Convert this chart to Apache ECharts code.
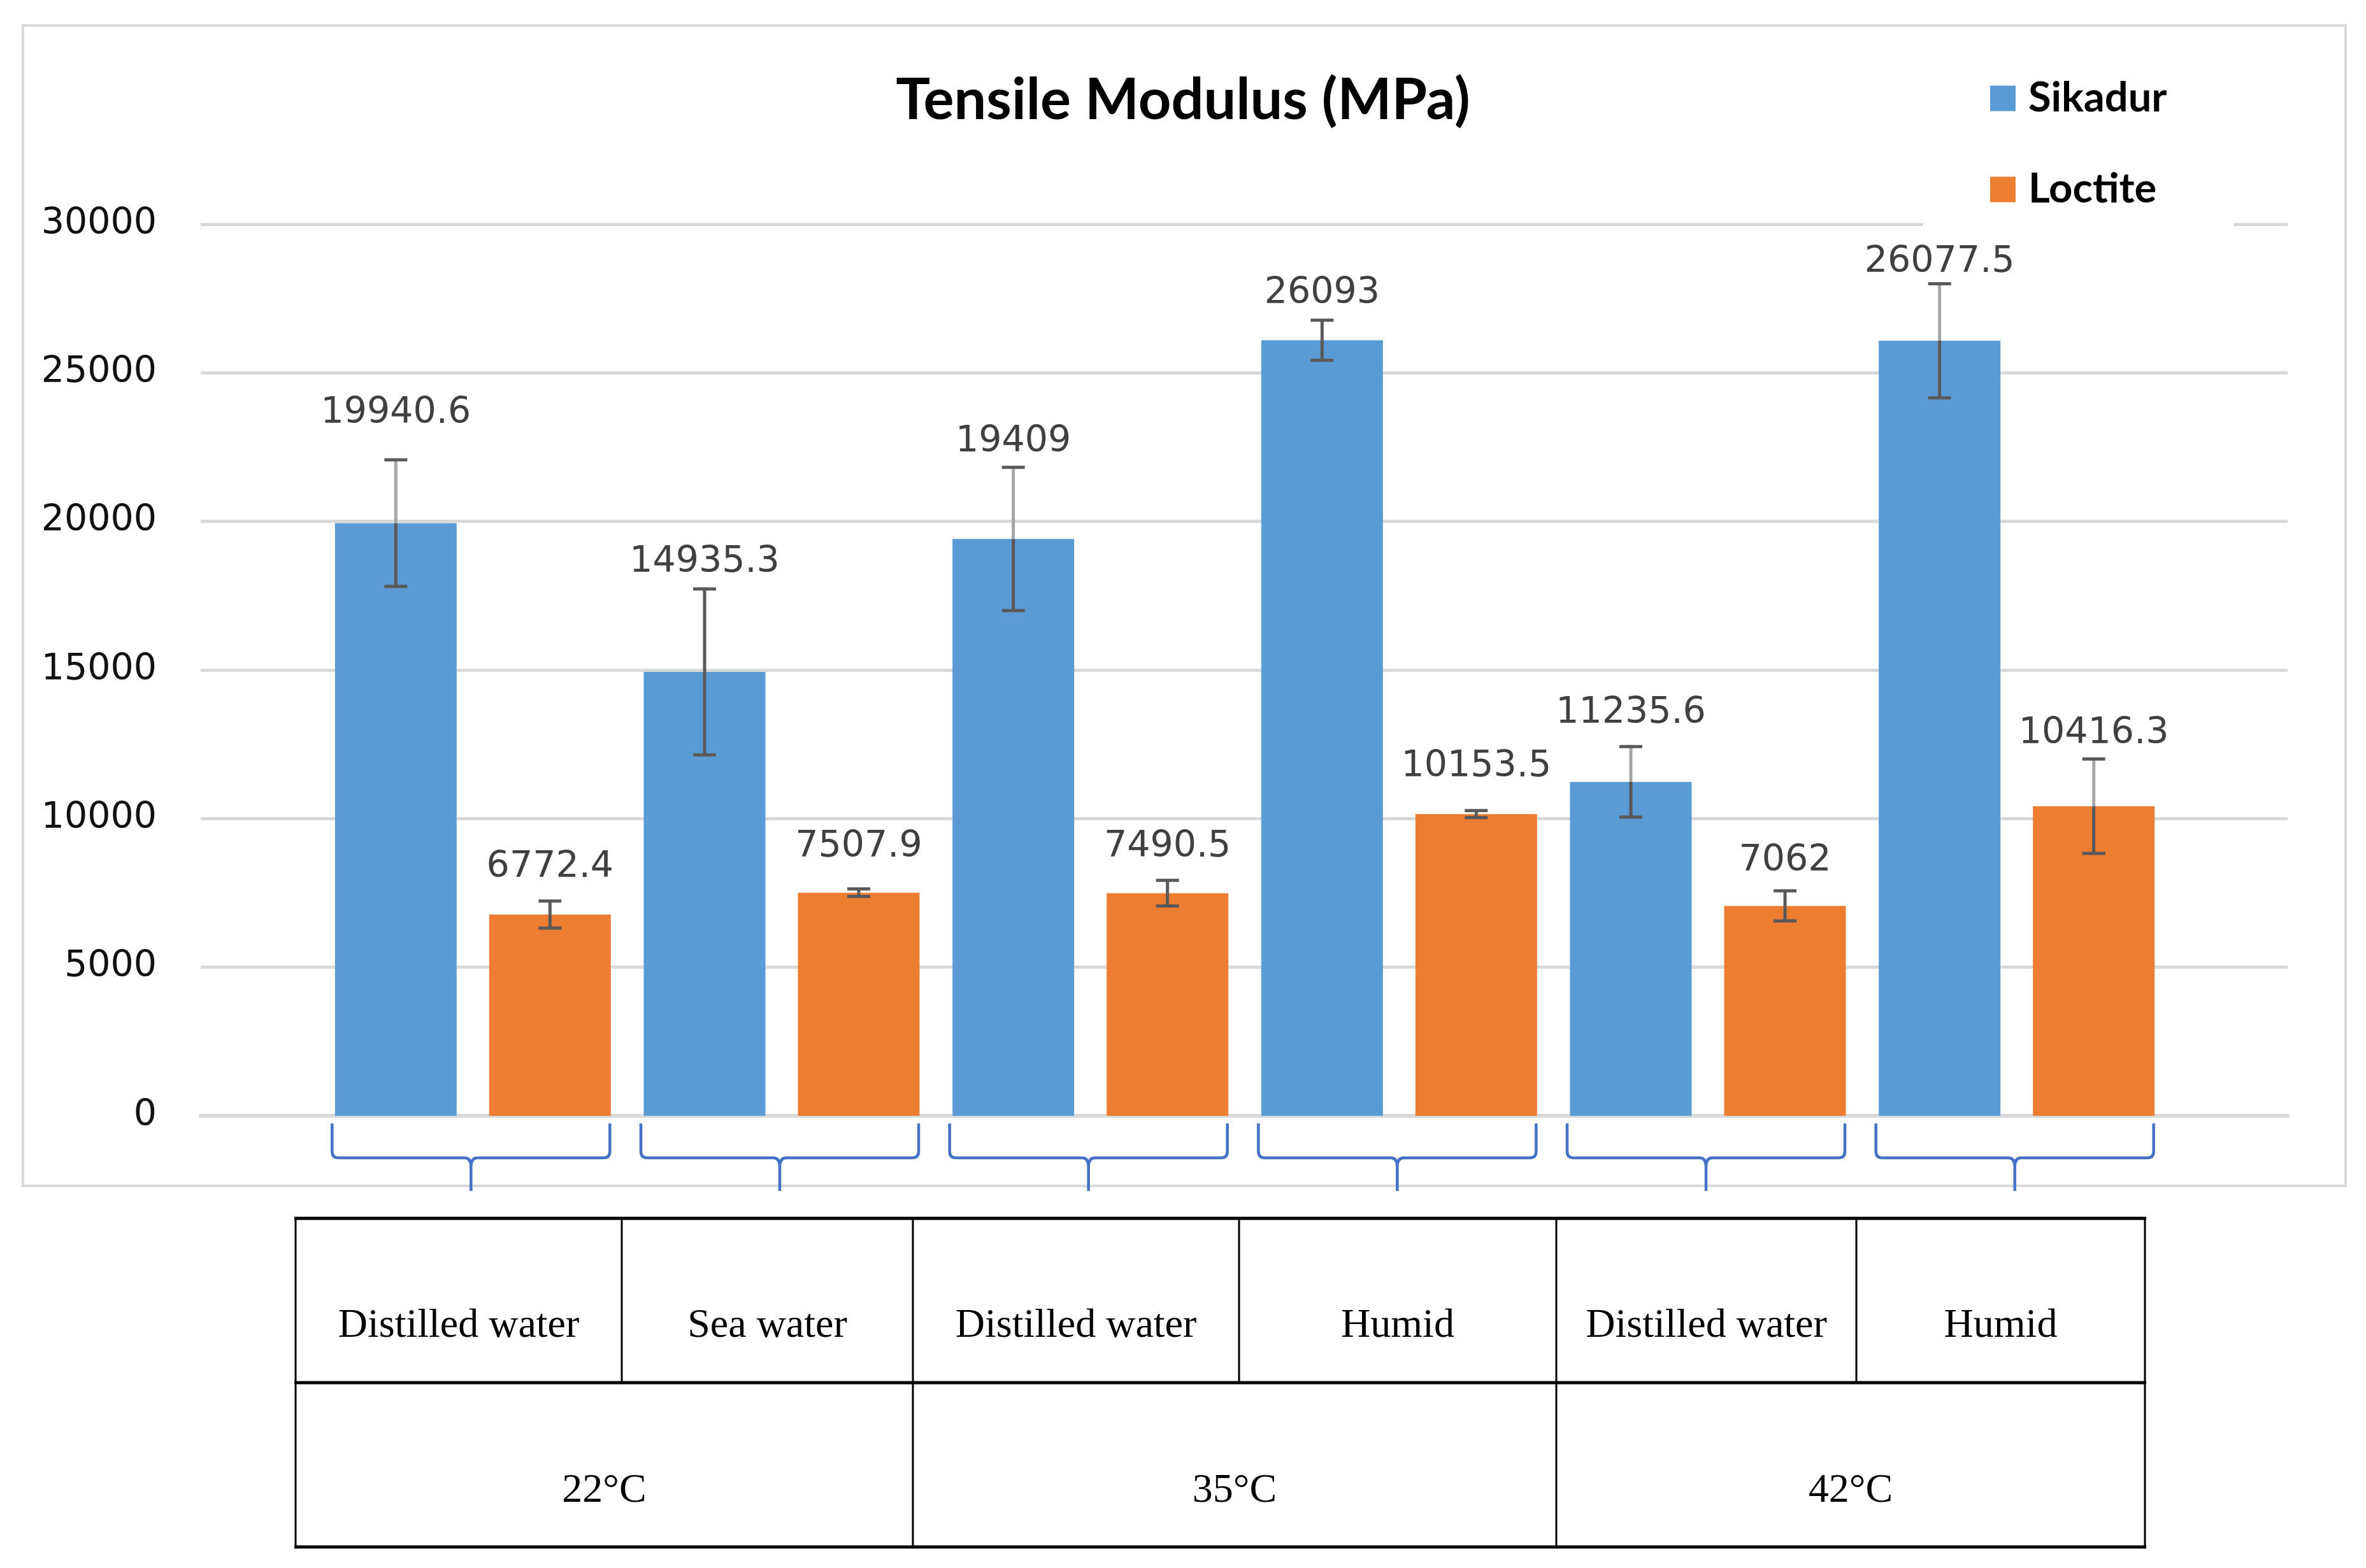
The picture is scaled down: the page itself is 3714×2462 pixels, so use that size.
<!DOCTYPE html>
<html><head><meta charset="utf-8">
<script src="https://cdn.jsdelivr.net/npm/echarts@6/dist/echarts.min.js"></script>
<style>html,body{margin:0;padding:0;background:#fff}#c{width:3714px;height:2462px}</style>
</head><body><div id="c"></div>
<script>
// ---------- data ----------
const categories = ['22°C Distilled water', '22°C Sea water', '35°C Distilled water', '35°C Humid', '42°C Distilled water', '42°C Humid'];
const seriesNames = ['Sikadur', 'Loctite'];
const sikadur = [19940.6, 14935.3, 19409, 26093, 11235.6, 26077.5];
const loctite = [6772.4, 7507.9, 7490.5, 10153.5, 7062, 10416.3];
const sikadurErr = [2130, 2790, 2410, 675, 1185, 1920];
const loctiteErr = [456, 127, 431, 118, 507, 1590];
const yMin = 0, yMax = 30000, yInterval = 5000;
const conditionLabels = ['Distilled water', 'Sea water', 'Distilled water', 'Humid', 'Distilled water', 'Humid'];
const temperatureLabels = ['22°C', '35°C', '42°C'];
const chartTitle = 'Tensile Modulus (MPa)';

// ---------- styles / layout ----------
const BLUE = '#5b9bd5', ORANGE = '#ed7d31', ERR = '#595959', ERR_LIGHT = '#a6a6a6';
const BAR_W = 191, BAR_GAP = 51;
const sikadurLightStem = [true, false, true, false, true, true];
const loctiteLightStem = [false, false, false, false, false, true];
const sikadurLabelLift = [73, 42, 40, 42, 52, 33];
const loctiteLabelLift = [52, 66, 52, 68, 47, 40];

const chart = echarts.init(document.getElementById('c'), null, {renderer: 'canvas'});

function errRender(sign, lightStem, lift) {
  return function (params, api) {
    const i = api.value(0), v = api.value(1), e = api.value(2);
    const base = api.coord([i, v]);
    const x = base[0] + sign * (BAR_W + BAR_GAP) / 2;
    const yBar = base[1];
    const yTop = api.coord([i, v + e])[1];
    const yBot = api.coord([i, v - e])[1];
    const capHalf = 18;
    const lw = 5;
    return {
      type: 'group',
      children: [
        {type: 'line', shape: {x1: x, y1: yTop, x2: x, y2: yBar}, style: {stroke: lightStem[i] ? ERR_LIGHT : ERR, lineWidth: lw}},
        {type: 'line', shape: {x1: x, y1: yBar, x2: x, y2: yBot}, style: {stroke: ERR, lineWidth: lw}},
        {type: 'line', shape: {x1: x - capHalf, y1: yTop, x2: x + capHalf, y2: yTop}, style: {stroke: ERR, lineWidth: lw}},
        {type: 'line', shape: {x1: x - capHalf, y1: yBot, x2: x + capHalf, y2: yBot}, style: {stroke: ERR, lineWidth: lw}},
        {type: 'text', x: x, y: yTop - lift[i], style: {text: String(v), fill: '#404040', font: '57px "DejaVu Sans"', align: 'center', verticalAlign: 'middle'}}
      ]
    };
  };
}

function bracketRender(params, api) {
  const i = api.value(0);
  const p = api.coord([i, 0]);
  const cx = p[0] - 3, y0 = p[1];
  const half = 218;
  const top = y0 + 12, h = y0 + 66, tip = y0 + 118;
  const L = cx - half, R = cx + half;
  const d = `M${L},${top} L${L},${h - 10} Q${L},${h} ${L + 10},${h} L${cx - 10},${h} Q${cx},${h} ${cx},${h + 14} L${cx},${tip} M${cx},${h + 14} Q${cx},${h} ${cx + 10},${h} L${R - 10},${h} Q${R},${h} ${R},${h - 10} L${R},${top}`;
  return {type: 'path', shape: {pathData: d}, style: {stroke: '#4472c4', lineWidth: 4.5, fill: null}};
}

// table graphics
const colX = [464, 976, 1433, 1945, 2443, 2914, 3367];
const groupX = [464, 1433, 2443, 3367];
const rowY = [1913, 2171, 2429];
const graphics = [];
graphics.push({type: 'rect', shape: {x: 36, y: 40, width: 3646, height: 1822}, style: {fill: null, stroke: '#d9d9d9', lineWidth: 4}, z: -10, silent: true});
rowY.forEach(y => graphics.push({type: 'line', shape: {x1: colX[0] - 2, y1: y, x2: colX[6] + 2, y2: y}, style: {stroke: '#000', lineWidth: 5}}));
colX.forEach(x => graphics.push({type: 'line', shape: {x1: x, y1: rowY[0], x2: x, y2: rowY[1]}, style: {stroke: '#000', lineWidth: 3}}));
groupX.forEach(x => graphics.push({type: 'line', shape: {x1: x, y1: rowY[1], x2: x, y2: rowY[2]}, style: {stroke: '#000', lineWidth: 3}}));
conditionLabels.forEach((t, k) => graphics.push({type: 'text', x: (colX[k] + colX[k + 1]) / 2, y: 2082, style: {text: t, fill: '#000', font: '64px "Liberation Serif"', align: 'center', verticalAlign: 'middle'}}));
temperatureLabels.forEach((t, k) => graphics.push({type: 'text', x: (groupX[k] + groupX[k + 1]) / 2, y: 2341, style: {text: t, fill: '#000', font: '64px "Liberation Serif"', align: 'center', verticalAlign: 'middle'}}));

const option = {
  backgroundColor: '#fff',
  animation: false,
  title: {text: chartTitle, left: 'center', top: 108, textStyle: {fontFamily: 'Lato', fontWeight: 'bold', fontSize: 90, color: '#000'}},
  legend: {
    data: seriesNames, orient: 'vertical', left: 3019, top: 62, padding: [60, 105, 30, 105],
    backgroundColor: '#fff', itemWidth: 40, itemHeight: 40, itemGap: 78, icon: 'rect',
    textStyle: {fontFamily: 'Lato', fontWeight: 'bold', fontSize: 65, color: '#000', padding: [0, 0, 0, 15]}
  },
  grid: [
    {left: 315, right: 123, top: 352, bottom: 710},
    {left: 500, right: 306, top: 352, bottom: 710}
  ],
  xAxis: [
    {gridIndex: 0, type: 'value', min: 0, max: 1, axisLabel: {show: false}, axisTick: {show: false}, splitLine: {show: false},
      axisLine: {show: true, lineStyle: {color: '#d9d9d9', width: 6}}},
    {gridIndex: 1, type: 'category', data: categories, show: false}
  ],
  yAxis: [
    {gridIndex: 0, type: 'value', min: yMin, max: yMax, interval: yInterval,
      axisLine: {show: false}, axisTick: {show: false},
      axisLabel: {fontFamily: 'DejaVu Sans', fontSize: 57, color: '#111', margin: 69, formatter: v => String(v)},
      splitLine: {lineStyle: {color: '#d9d9d9', width: 5}}},
    {gridIndex: 1, type: 'value', min: yMin, max: yMax, interval: yInterval, show: false, splitLine: {show: false}}
  ],
  series: [
    {name: seriesNames[0], type: 'bar', xAxisIndex: 1, yAxisIndex: 1, data: sikadur, barWidth: BAR_W, barGap: (BAR_GAP / BAR_W * 100) + '%', itemStyle: {color: BLUE}, silent: true},
    {name: seriesNames[1], type: 'bar', xAxisIndex: 1, yAxisIndex: 1, data: loctite, barWidth: BAR_W, barGap: (BAR_GAP / BAR_W * 100) + '%', itemStyle: {color: ORANGE}, silent: true},
    {type: 'custom', xAxisIndex: 1, yAxisIndex: 1, clip: false, silent: true, z: 6,
      data: sikadur.map((v, i) => [i, v, sikadurErr[i]]), renderItem: errRender(-1, sikadurLightStem, sikadurLabelLift)},
    {type: 'custom', xAxisIndex: 1, yAxisIndex: 1, clip: false, silent: true, z: 6,
      data: loctite.map((v, i) => [i, v, loctiteErr[i]]), renderItem: errRender(1, loctiteLightStem, loctiteLabelLift)},
    {type: 'custom', xAxisIndex: 1, yAxisIndex: 1, clip: false, silent: true, z: 6,
      data: categories.map((c, i) => [i, 0]), renderItem: bracketRender}
  ],
  graphic: graphics
};
chart.setOption(option);
</script>
</body></html>
